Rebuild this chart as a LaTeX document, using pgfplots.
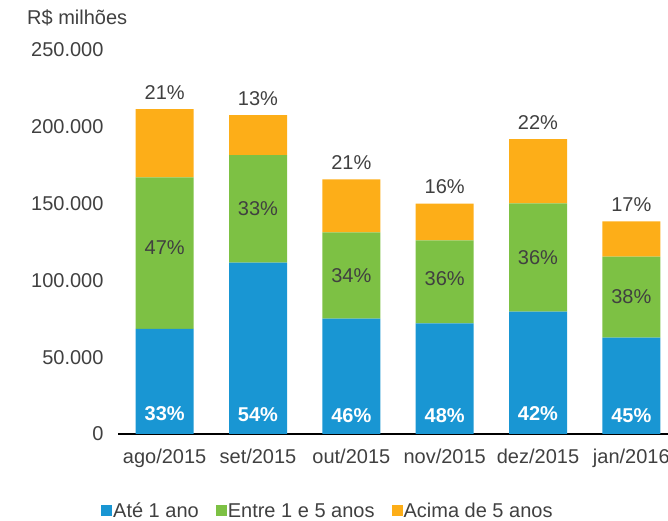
\documentclass[border=0pt]{standalone}
\usepackage{fontspec}
\setmainfont{Liberation Sans}
\usepackage{pgfplots}
\pgfplotsset{compat=1.18}
\definecolor{barBlue}{RGB}{25,150,211}
\definecolor{barGreen}{RGB}{125,193,68}
\definecolor{barOrange}{RGB}{253,174,24}
\definecolor{txtGray}{RGB}{64,64,64}
\tikzset{
    bigfont/.style={font=\fontsize{20}{24}\selectfont},
    pctlab/.style={bigfont, text=txtGray},
    pctwhite/.style={font=\bfseries\fontsize{20}{24}\selectfont, text=white},
}
\begin{document}
\begin{tikzpicture}
\useasboundingbox (0,0) rectangle (668pt,521pt);
\clip (0,0) rectangle (668pt,521pt);
\node[anchor=west, pctlab, inner sep=0pt] at (27pt,503pt) {R\$ milhões};
\begin{axis}[
    at={(118pt,87pt)}, anchor=south west,
    scale only axis,
    width=560pt, height=384pt,
    ybar stacked,
    bar width=58pt,
    xmin=-0.5, xmax=5.5,
    ymin=0, ymax=250000,
    xtick={0,1,2,3,4,5},
    xticklabels={ago/2015,set/2015,out/2015,nov/2015,dez/2015,jan/2016},
    ytick={0,50000,100000,150000,200000,250000},
    scaled y ticks=false,
    /pgf/number format/fixed,
    /pgf/number format/precision=0,
    /pgf/number format/1000 sep={.},
    /pgf/number format/assume math mode=true,
    yticklabel style={xshift=-11pt},
    xticklabel style={yshift=-11pt},
    tick label style={pctlab},
    axis x line*=bottom,
    axis y line*=left,
    y axis line style={draw=none},
    x axis line style={black, line width=1.4pt},
    ytick style={draw=none},
    xtick style={draw=none},
    extra x ticks={-0.5,0.5,1.5,2.5,3.5,4.5,5.5},
    extra x tick labels={},
    extra x tick style={tick style={draw=gray!70, line width=1pt}, major tick length=7pt, tick align=outside},
    legend style={at={(-0.0304,-0.2005)}, anchor=west, draw=none, fill=none, inner sep=0pt,
        legend columns=-1, pctlab,
        nodes={inner xsep=1pt},
        /tikz/every odd column/.append style={column sep=0pt},
        /tikz/every even column/.append style={column sep=16pt}},
    legend cell align=left,
    legend image code/.code={\fill[#1] (0pt,-5.5pt) rectangle (11pt,5.5pt);},
    clip=false,
]
\addplot[fill=barBlue, draw=none] coordinates {(0,68500) (1,111600) (2,75100) (3,72000) (4,79600) (5,62700)};
\addplot[fill=barGreen, draw=none] coordinates {(0,98600) (1,69900) (2,56100) (3,54000) (4,70500) (5,52800)};
\addplot[fill=barOrange, draw=none] coordinates {(0,44400) (1,26100) (2,34600) (3,24000) (4,41800) (5,22900)};
\legend{Até 1 ano, Entre 1 e 5 anos, Acima de 5 anos}
% label anchors (placed after the axis so the bars do not cover them)
\coordinate (o0) at (axis cs:0,211500);
\coordinate (o1) at (axis cs:1,207600);
\coordinate (o2) at (axis cs:2,165800);
\coordinate (o3) at (axis cs:3,150000);
\coordinate (o4) at (axis cs:4,191900);
\coordinate (o5) at (axis cs:5,138400);
\coordinate (g0) at (axis cs:0,121400);
\coordinate (g1) at (axis cs:1,146900);
\coordinate (g2) at (axis cs:2,103000);
\coordinate (g3) at (axis cs:3,101000);
\coordinate (g4) at (axis cs:4,114900);
\coordinate (g5) at (axis cs:5,89400);
\coordinate (b0) at (axis cs:0,13500);
\coordinate (b1) at (axis cs:1,12500);
\coordinate (b2) at (axis cs:2,12000);
\coordinate (b3) at (axis cs:3,12000);
\coordinate (b4) at (axis cs:4,13500);
\coordinate (b5) at (axis cs:5,12000);
\end{axis}
\foreach \i/\t in {0/21,1/13,2/21,3/16,4/22,5/17}
    \node[pctlab, yshift=16.5pt] at (o\i) {\t\%};
\foreach \i/\t in {0/47,1/33,2/34,3/36,4/36,5/38}
    \node[pctlab] at (g\i) {\t\%};
\foreach \i/\t in {0/33,1/54,2/46,3/48,4/42,5/45}
    \node[pctwhite] at (b\i) {\t\%};
\end{tikzpicture}
\end{document}
